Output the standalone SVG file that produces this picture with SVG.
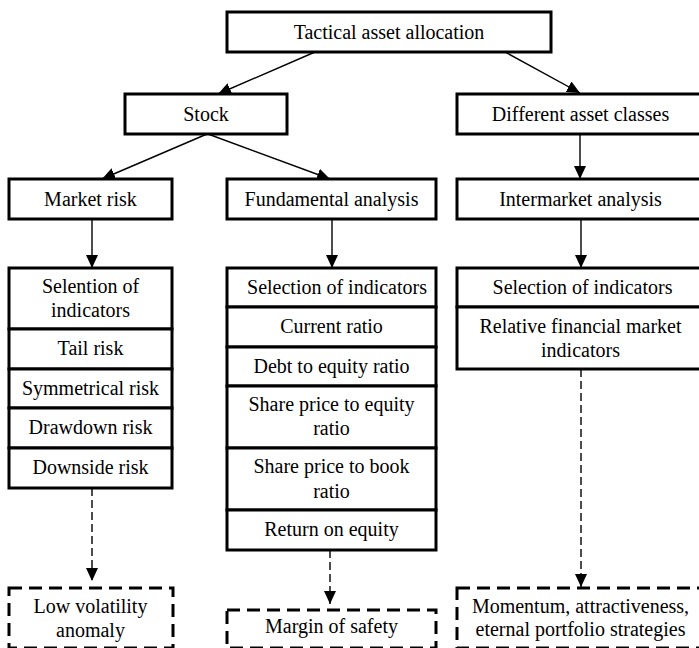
<svg xmlns="http://www.w3.org/2000/svg" width="699" height="648" viewBox="0 0 699 648">
  <style>
    .box { fill: #ffffff; stroke: #000000; stroke-width: 3; }
    .dbox { fill: #ffffff; stroke: #000000; stroke-width: 3; stroke-dasharray: 13 7; }
    .lbl { font-family: 'Liberation Serif', 'DejaVu Serif', serif; font-size: 20px; fill: #000000; text-anchor: middle; }
    .edge { fill: none; stroke: #000000; stroke-width: 1.4; }
    .dash { stroke-dasharray: 8 4; }
  </style>
  <defs>
    <marker id="arrow" markerUnits="userSpaceOnUse" markerWidth="13" markerHeight="12" refX="13" refY="6" orient="auto">
      <path d="M0,0 L13,6 L0,12 z" fill="#000000"/>
    </marker>
  </defs>
  <rect width="699" height="648" fill="#ffffff"/>

  <!-- connectors -->
  <g id="connectors">
    <line class="edge" x1="315" y1="52" x2="218" y2="94" marker-end="url(#arrow)"/>
    <line class="edge" x1="505" y1="52" x2="580" y2="93" marker-end="url(#arrow)"/>
    <line class="edge" x1="207" y1="134" x2="102" y2="179" marker-end="url(#arrow)"/>
    <line class="edge" x1="208" y1="134" x2="330" y2="179" marker-end="url(#arrow)"/>
    <line class="edge" x1="580" y1="134" x2="580" y2="179" marker-end="url(#arrow)"/>
    <line class="edge" x1="92" y1="219" x2="92" y2="268" marker-end="url(#arrow)"/>
    <line class="edge" x1="332" y1="219" x2="332" y2="268" marker-end="url(#arrow)"/>
    <line class="edge" x1="581" y1="219" x2="581" y2="268" marker-end="url(#arrow)"/>
    <line class="edge dash" x1="92" y1="488" x2="92" y2="581" marker-end="url(#arrow)"/>
    <line class="edge dash" x1="330" y1="550" x2="330" y2="604" marker-end="url(#arrow)"/>
    <line class="edge dash" x1="581" y1="369" x2="581" y2="587" marker-end="url(#arrow)"/>
  </g>

  <!-- top levels -->
  <g id="tactical">
    <rect class="box" x="227" y="12" width="324" height="40"/>
    <text class="lbl" font-family="Liberation Serif" x="389" y="38.5">Tactical asset allocation</text>
  </g>
  <g id="stock">
    <rect class="box" x="125" y="94" width="162" height="40"/>
    <text class="lbl" x="206" y="120.5">Stock</text>
  </g>
  <g id="different-asset-classes">
    <rect class="box" x="457" y="94" width="246" height="40"/>
    <text class="lbl" x="580.5" y="120.5">Different asset classes</text>
  </g>
  <g id="market-risk">
    <rect class="box" x="9" y="179" width="163" height="40"/>
    <text class="lbl" x="90.5" y="205.5">Market risk</text>
  </g>
  <g id="fundamental-analysis">
    <rect class="box" x="227" y="179" width="209" height="40"/>
    <text class="lbl" x="331.5" y="205.5">Fundamental analysis</text>
  </g>
  <g id="intermarket-analysis">
    <rect class="box" x="457" y="179" width="246" height="40"/>
    <text class="lbl" x="580.5" y="205.5">Intermarket analysis</text>
  </g>

  <!-- left column: market risk indicators -->
  <g id="left-selection">
    <rect class="box" x="9" y="268" width="163" height="61"/>
    <text class="lbl" x="90.5" y="293">Selention of</text>
    <text class="lbl" x="90.5" y="317">indicators</text>
  </g>
  <g id="tail-risk">
    <rect class="box" x="9" y="329" width="163" height="40"/>
    <text class="lbl" x="90.5" y="355">Tail risk</text>
  </g>
  <g id="symmetrical-risk">
    <rect class="box" x="9" y="369" width="163" height="39"/>
    <text class="lbl" x="90.5" y="395">Symmetrical risk</text>
  </g>
  <g id="drawdown-risk">
    <rect class="box" x="9" y="408" width="163" height="40"/>
    <text class="lbl" x="90.5" y="434">Drawdown risk</text>
  </g>
  <g id="downside-risk">
    <rect class="box" x="9" y="448" width="163" height="40"/>
    <text class="lbl" x="90.5" y="474">Downside risk</text>
  </g>

  <!-- centre column: fundamental indicators -->
  <g id="center-selection">
    <rect class="box" x="227" y="268" width="209" height="39"/>
    <text class="lbl" x="337" y="294">Selection of indicators</text>
  </g>
  <g id="current-ratio">
    <rect class="box" x="227" y="307" width="209" height="40"/>
    <text class="lbl" x="331.5" y="333">Current ratio</text>
  </g>
  <g id="debt-to-equity">
    <rect class="box" x="227" y="347" width="209" height="39"/>
    <text class="lbl" x="331.5" y="373">Debt to equity ratio</text>
  </g>
  <g id="price-to-equity">
    <rect class="box" x="227" y="386" width="209" height="62"/>
    <text class="lbl" x="331.5" y="411">Share price to equity</text>
    <text class="lbl" x="331.5" y="435">ratio</text>
  </g>
  <g id="price-to-book">
    <rect class="box" x="227" y="448" width="209" height="62"/>
    <text class="lbl" x="331.5" y="473">Share price to book</text>
    <text class="lbl" x="331.5" y="498">ratio</text>
  </g>
  <g id="return-on-equity">
    <rect class="box" x="227" y="510" width="209" height="40"/>
    <text class="lbl" x="331.5" y="536">Return on equity</text>
  </g>

  <!-- right column: intermarket indicators -->
  <g id="right-selection">
    <rect class="box" x="457" y="268" width="246" height="39"/>
    <text class="lbl" x="582.5" y="294">Selection of indicators</text>
  </g>
  <g id="relative-indicators">
    <rect class="box" x="457" y="307" width="246" height="62"/>
    <text class="lbl" x="580.5" y="333">Relative financial market</text>
    <text class="lbl" x="580.5" y="357">indicators</text>
  </g>

  <!-- outcomes -->
  <g id="low-volatility">
    <rect class="dbox" x="9" y="588" width="164" height="60"/>
    <text class="lbl" x="90.5" y="613">Low volatility</text>
    <text class="lbl" x="90.5" y="637">anomaly</text>
  </g>
  <g id="margin-of-safety">
    <rect class="dbox" x="227" y="610" width="209" height="38"/>
    <text class="lbl" x="331.5" y="633">Margin of safety</text>
  </g>
  <g id="portfolio-strategies">
    <rect class="dbox" x="457" y="588" width="246" height="60"/>
    <text class="lbl" x="580.5" y="613">Momentum, attractiveness,</text>
    <text class="lbl" x="580.5" y="636">eternal portfolio strategies</text>
  </g>
</svg>
